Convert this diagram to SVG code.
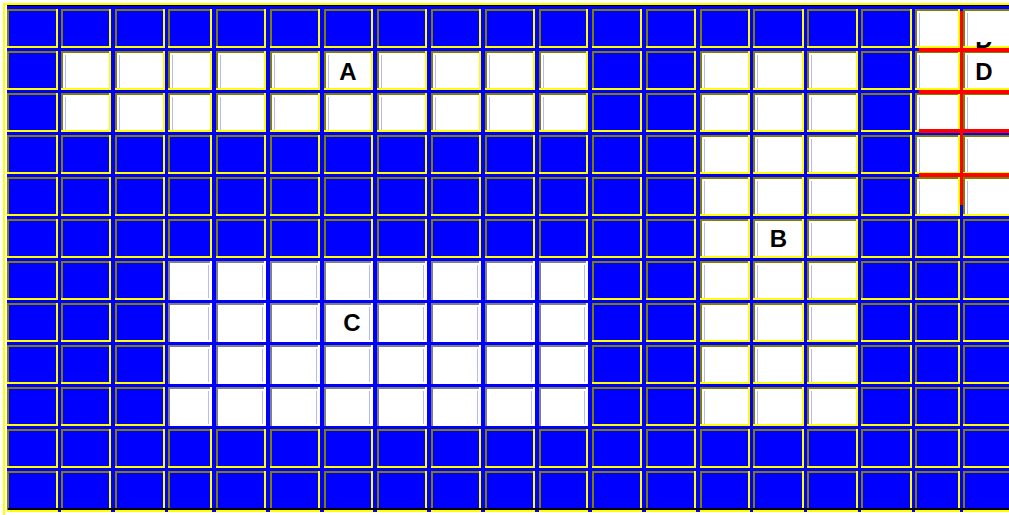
<svg xmlns="http://www.w3.org/2000/svg" width="1009" height="515" viewBox="0 0 1009 515">
<style>
.o{stroke:#808000;stroke-width:2}
.y{stroke:#ffff00;stroke-width:2}
.g{stroke:#808080;stroke-width:2}
.w{stroke:#ffffff;stroke-width:2}
.h{stroke-dasharray:51 3 50 4 50 3 44 4 50 4 50 4 49 4 50 4 50 4 50 4 49 4 50 4 50 4 50 3 51 3 51 3 51 3 45 3 50 100}
.v{stroke-dasharray:39 3}
.hc{stroke-dasharray:44 4 50 4 50 4 49 4 50 4 50 4 50 4 49 200}
.lav{stroke:#b8b8f8;stroke-width:1}
.lv{stroke-dasharray:33 9}
.gap{fill:#0000ff}
.red{fill:#ff0000}
.lbl{font-family:"Liberation Sans",Arial,sans-serif;font-weight:bold;font-size:24px;fill:#000;text-anchor:middle}
</style>
<defs>
<clipPath id="clipD"><rect x="960" y="42" width="49" height="6"/></clipPath>
</defs>
<rect width="1009" height="515" fill="#ffffff"/>
<g id="frame">
<rect x="3" y="3" width="1006" height="2" fill="#ffff00"/>
<rect x="3" y="3" width="2" height="512" fill="#ffff00"/>
<rect x="7" y="5" width="1002" height="1" fill="#000000"/>
<rect x="7" y="6" width="1002" height="506" fill="#0000ff"/>
</g>
<g id="white-fills" fill="#ffffff">
<rect id="region-A" x="61" y="51" width="527" height="81"/>
<rect id="region-B" x="700" y="51" width="158" height="375"/>
<rect id="region-C" x="168" y="261" width="420" height="165"/>
<rect id="region-D" x="915" y="9" width="94" height="207"/>
</g>
<g id="gaps">
<rect class="gap" x="58" y="6" width="3" height="506"/>
<rect class="gap" x="111" y="6" width="4" height="506"/>
<rect class="gap" x="165" y="6" width="3" height="506"/>
<rect class="gap" x="212" y="6" width="4" height="506"/>
<rect class="gap" x="266" y="6" width="4" height="506"/>
<rect class="gap" x="320" y="6" width="4" height="506"/>
<rect class="gap" x="373" y="6" width="4" height="506"/>
<rect class="gap" x="427" y="6" width="4" height="506"/>
<rect class="gap" x="481" y="6" width="4" height="506"/>
<rect class="gap" x="535" y="6" width="4" height="506"/>
<rect class="gap" x="588" y="6" width="4" height="506"/>
<rect class="gap" x="642" y="6" width="4" height="506"/>
<rect class="gap" x="696" y="6" width="4" height="506"/>
<rect class="gap" x="750" y="6" width="3" height="506"/>
<rect class="gap" x="804" y="6" width="3" height="506"/>
<rect class="gap" x="858" y="6" width="3" height="506"/>
<rect class="gap" x="912" y="6" width="3" height="506"/>
<rect class="gap" x="960" y="6" width="3" height="506"/>
<rect class="gap" x="7" y="48" width="1002" height="3"/>
<rect class="gap" x="7" y="90" width="1002" height="3"/>
<rect class="gap" x="7" y="132" width="1002" height="3"/>
<rect class="gap" x="7" y="174" width="1002" height="3"/>
<rect class="gap" x="7" y="216" width="1002" height="3"/>
<rect class="gap" x="7" y="258" width="1002" height="3"/>
<rect class="gap" x="7" y="300" width="1002" height="3"/>
<rect class="gap" x="7" y="342" width="1002" height="3"/>
<rect class="gap" x="7" y="384" width="1002" height="3"/>
<rect class="gap" x="7" y="426" width="1002" height="3"/>
<rect class="gap" x="7" y="468" width="1002" height="3"/>
</g>
<g id="cell-borders">
<line class="o h" x1="7" y1="10" x2="1009" y2="10"/>
<line class="o h" x1="7" y1="52" x2="1009" y2="52"/>
<line class="o h" x1="7" y1="94" x2="1009" y2="94"/>
<line class="o h" x1="7" y1="136" x2="1009" y2="136"/>
<line class="o h" x1="7" y1="178" x2="1009" y2="178"/>
<line class="o h" x1="7" y1="220" x2="1009" y2="220"/>
<line class="o h" x1="7" y1="262" x2="1009" y2="262"/>
<line class="o h" x1="7" y1="304" x2="1009" y2="304"/>
<line class="o h" x1="7" y1="346" x2="1009" y2="346"/>
<line class="o h" x1="7" y1="388" x2="1009" y2="388"/>
<line class="o h" x1="7" y1="430" x2="1009" y2="430"/>
<line class="o h" x1="7" y1="472" x2="1009" y2="472"/>
<line class="o v" x1="8" y1="9" x2="8" y2="512"/>
<line class="o v" x1="62" y1="9" x2="62" y2="512"/>
<line class="o v" x1="116" y1="9" x2="116" y2="512"/>
<line class="o v" x1="169" y1="9" x2="169" y2="512"/>
<line class="o v" x1="217" y1="9" x2="217" y2="512"/>
<line class="o v" x1="271" y1="9" x2="271" y2="512"/>
<line class="o v" x1="325" y1="9" x2="325" y2="512"/>
<line class="o v" x1="378" y1="9" x2="378" y2="512"/>
<line class="o v" x1="432" y1="9" x2="432" y2="512"/>
<line class="o v" x1="486" y1="9" x2="486" y2="512"/>
<line class="o v" x1="540" y1="9" x2="540" y2="512"/>
<line class="o v" x1="593" y1="9" x2="593" y2="512"/>
<line class="o v" x1="647" y1="9" x2="647" y2="512"/>
<line class="o v" x1="701" y1="9" x2="701" y2="512"/>
<line class="o v" x1="754" y1="9" x2="754" y2="512"/>
<line class="o v" x1="808" y1="9" x2="808" y2="512"/>
<line class="o v" x1="862" y1="9" x2="862" y2="512"/>
<line class="o v" x1="916" y1="9" x2="916" y2="512"/>
<line class="o v" x1="964" y1="9" x2="964" y2="512"/>
<line class="y v" x1="57" y1="9" x2="57" y2="512"/>
<line class="y v" x1="110" y1="9" x2="110" y2="512"/>
<line class="y v" x1="164" y1="9" x2="164" y2="512"/>
<line class="y v" x1="211" y1="9" x2="211" y2="512"/>
<line class="y v" x1="265" y1="9" x2="265" y2="512"/>
<line class="y v" x1="319" y1="9" x2="319" y2="512"/>
<line class="y v" x1="372" y1="9" x2="372" y2="512"/>
<line class="y v" x1="426" y1="9" x2="426" y2="512"/>
<line class="y v" x1="480" y1="9" x2="480" y2="512"/>
<line class="y v" x1="534" y1="9" x2="534" y2="512"/>
<line class="y v" x1="587" y1="9" x2="587" y2="512"/>
<line class="y v" x1="641" y1="9" x2="641" y2="512"/>
<line class="y v" x1="695" y1="9" x2="695" y2="512"/>
<line class="y v" x1="749" y1="9" x2="749" y2="512"/>
<line class="y v" x1="803" y1="9" x2="803" y2="512"/>
<line class="y v" x1="857" y1="9" x2="857" y2="512"/>
<line class="y v" x1="911" y1="9" x2="911" y2="512"/>
<line class="y v" x1="959" y1="9" x2="959" y2="512"/>
<line class="y h" x1="7" y1="47" x2="1009" y2="47"/>
<line class="y h" x1="7" y1="89" x2="1009" y2="89"/>
<line class="y h" x1="7" y1="131" x2="1009" y2="131"/>
<line class="y h" x1="7" y1="173" x2="1009" y2="173"/>
<line class="y h" x1="7" y1="215" x2="1009" y2="215"/>
<line class="y h" x1="7" y1="257" x2="1009" y2="257"/>
<line class="y h" x1="7" y1="299" x2="1009" y2="299"/>
<line class="y h" x1="7" y1="341" x2="1009" y2="341"/>
<line class="y h" x1="7" y1="383" x2="1009" y2="383"/>
<line class="y h" x1="7" y1="425" x2="1009" y2="425"/>
<line class="y h" x1="7" y1="467" x2="1009" y2="467"/>
<rect x="8" y="508" width="1001" height="2" fill="#000000"/>
<line class="y h" x1="7" y1="511" x2="1009" y2="511"/>
</g>
<g id="c-borders">
<line class="g hc" x1="168" y1="262" x2="588" y2="262"/>
<line class="g hc" x1="168" y1="304" x2="588" y2="304"/>
<line class="g hc" x1="168" y1="346" x2="588" y2="346"/>
<line class="g hc" x1="168" y1="388" x2="588" y2="388"/>
<line class="w hc" x1="168" y1="299" x2="588" y2="299"/>
<line class="w hc" x1="168" y1="341" x2="588" y2="341"/>
<line class="w hc" x1="168" y1="383" x2="588" y2="383"/>
<line class="w hc" x1="168" y1="425" x2="588" y2="425"/>
<line class="g v" x1="169" y1="261" x2="169" y2="426"/>
<line class="g v" x1="217" y1="261" x2="217" y2="426"/>
<line class="g v" x1="271" y1="261" x2="271" y2="426"/>
<line class="g v" x1="325" y1="261" x2="325" y2="426"/>
<line class="g v" x1="378" y1="261" x2="378" y2="426"/>
<line class="g v" x1="432" y1="261" x2="432" y2="426"/>
<line class="g v" x1="486" y1="261" x2="486" y2="426"/>
<line class="g v" x1="540" y1="261" x2="540" y2="426"/>
<line class="w v" x1="211" y1="261" x2="211" y2="426"/>
<line class="w v" x1="265" y1="261" x2="265" y2="426"/>
<line class="w v" x1="319" y1="261" x2="319" y2="426"/>
<line class="w v" x1="372" y1="261" x2="372" y2="426"/>
<line class="w v" x1="426" y1="261" x2="426" y2="426"/>
<line class="w v" x1="480" y1="261" x2="480" y2="426"/>
<line class="w v" x1="534" y1="261" x2="534" y2="426"/>
<line class="w v" x1="587" y1="261" x2="587" y2="426"/>
</g>
<g id="inner-lines">
<line class="lav lv" x1="65.5" y1="55" x2="65.5" y2="132"/>
<line class="lav lv" x1="119.5" y1="55" x2="119.5" y2="132"/>
<line class="lav lv" x1="172.5" y1="55" x2="172.5" y2="132"/>
<line class="lav lv" x1="220.5" y1="55" x2="220.5" y2="132"/>
<line class="lav lv" x1="274.5" y1="55" x2="274.5" y2="132"/>
<line class="lav lv" x1="328.5" y1="55" x2="328.5" y2="132"/>
<line class="lav lv" x1="381.5" y1="55" x2="381.5" y2="132"/>
<line class="lav lv" x1="435.5" y1="55" x2="435.5" y2="132"/>
<line class="lav lv" x1="489.5" y1="55" x2="489.5" y2="132"/>
<line class="lav lv" x1="543.5" y1="55" x2="543.5" y2="132"/>
<line class="lav lv" x1="704.5" y1="55" x2="704.5" y2="426"/>
<line class="lav lv" x1="757.5" y1="55" x2="757.5" y2="426"/>
<line class="lav lv" x1="811.5" y1="55" x2="811.5" y2="426"/>
<line class="lav lv" x1="919.5" y1="13" x2="919.5" y2="216"/>
<line class="lav lv" x1="967.5" y1="13" x2="967.5" y2="216"/>
<line class="lav lv" x1="208.5" y1="265" x2="208.5" y2="426"/>
<line class="lav lv" x1="262.5" y1="265" x2="262.5" y2="426"/>
<line class="lav lv" x1="316.5" y1="265" x2="316.5" y2="426"/>
<line class="lav lv" x1="369.5" y1="265" x2="369.5" y2="426"/>
<line class="lav lv" x1="423.5" y1="265" x2="423.5" y2="426"/>
<line class="lav lv" x1="477.5" y1="265" x2="477.5" y2="426"/>
<line class="lav lv" x1="531.5" y1="265" x2="531.5" y2="426"/>
<line class="lav lv" x1="584.5" y1="265" x2="584.5" y2="426"/>
</g>
<g id="red-lines">
<rect class="red" x="960" y="11" width="3" height="194"/>
<rect class="red" x="919" y="48" width="90" height="4"/>
<rect class="red" x="919" y="90" width="90" height="4"/>
<rect class="red" x="919" y="129" width="90" height="4"/>
<rect class="red" x="919" y="173" width="90" height="4"/>
</g>
<g id="labels">
<text id="label-A" class="lbl" x="348" y="80">A</text>
<text id="label-B" class="lbl" x="778.5" y="247">B</text>
<text id="label-C" class="lbl" x="352" y="331">C</text>
<text id="label-D" class="lbl" x="984" y="80">D</text>
<text id="label-D-clipped" class="lbl" x="984" y="48" clip-path="url(#clipD)">D</text>
</g>
</svg>
